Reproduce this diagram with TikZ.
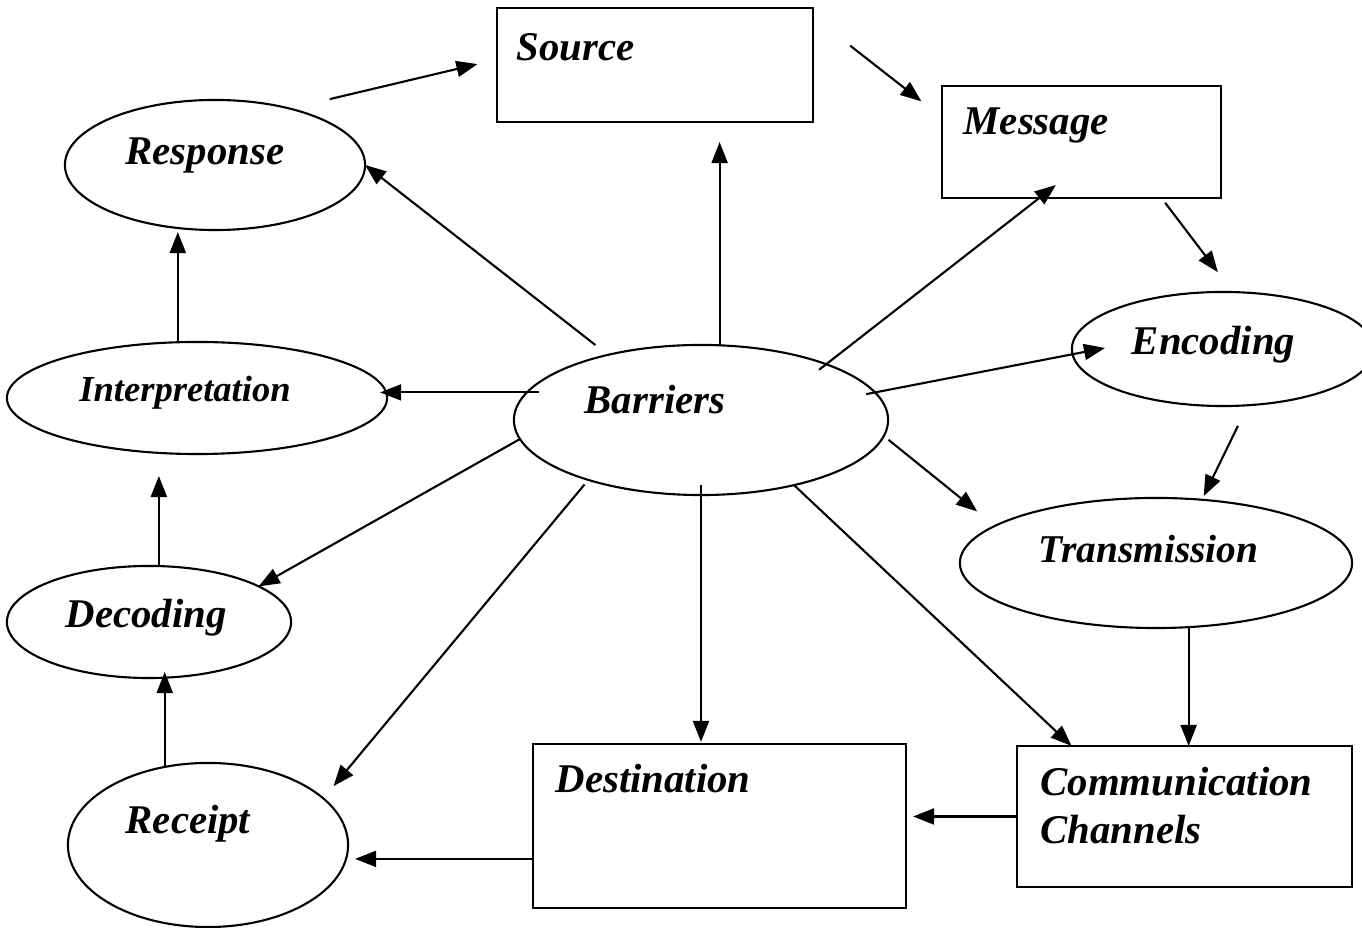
\documentclass[tikz,border=0pt]{standalone}
\usepackage{fontspec}
\setmainfont{Liberation Serif}
\usetikzlibrary{shapes.geometric,arrows.meta}

\begin{document}
\begin{tikzpicture}[x=0.01cm,y=-0.01cm,
    bubble/.style={draw, ellipse, inner sep=0pt, outer sep=0pt, line width=0.6pt},
    box/.style={draw, rectangle, inner sep=0pt, outer sep=0pt, line width=0.7pt},
    txt/.style={inner sep=0pt, anchor=base, font=\fontsize{11.6}{13.5}\selectfont\bfseries\itshape},
    arr/.style={-{Triangle[length=2.1mm,width=1.6mm]}, line width=0.6pt}]
\useasboundingbox (0,0) rectangle (1362,928);

% boxes
\node[box, minimum width=3.16cm, minimum height=1.14cm,
  label={[txt, anchor=base west, xshift=1.9mm, yshift=-5.3mm]north west:Source}] (src) at (655,65) {};
\node[box, minimum width=2.79cm, minimum height=1.12cm,
  label={[txt, anchor=base west, xshift=2.1mm, yshift=-4.9mm]north west:Message}] (msg) at (1081.5,142) {};
\node[box, minimum width=3.73cm, minimum height=1.64cm,
  label={[txt, anchor=base west, xshift=2.2mm, yshift=-4.9mm]north west:Destination}] (dest) at (719.5,826) {};
\node[box, minimum width=3.35cm, minimum height=1.41cm,
  label={[txt, align=left, anchor=north west, xshift=2.3mm, yshift=-2.1mm]north west:Communication\\Channels}] (comm) at (1184.5,816.5) {};

% ellipses
\node[bubble, minimum width=3cm, minimum height=1.3cm] (resp) at (215,165) {};
\node[bubble, minimum width=3.8cm, minimum height=1.12cm] (interp) at (197,398) {};
\node[bubble, minimum width=3.74cm, minimum height=1.5cm] (barr) at (701,420) {};
\node[bubble, minimum width=3.02cm, minimum height=1.14cm] (enc) at (1223,349) {};
\node[bubble, minimum width=3.92cm, minimum height=1.3cm] (trans) at (1156,563) {};
\node[bubble, minimum width=2.84cm, minimum height=1.12cm] (dec) at (149,622) {};
\node[bubble, minimum width=2.8cm, minimum height=1.64cm] (rec) at (208,845) {};

% their texts
\node[txt] (resptxt) at ([xshift=-1mm]resp.center) {Response};
\node[txt, font=\fontsize{10.4}{12}\selectfont\bfseries\itshape] (interptxt) at ([xshift=-1.2mm, yshift=-0.4mm]interp.center) {Interpretation};
\node[txt] (barrtxt) at ([xshift=-4.6mm, yshift=0.6mm]barr.center) {Barriers};
\node[txt] (enctxt) at ([xshift=-0.95mm, yshift=-0.6mm]enc.center) {Encoding};
\node[txt, font=\fontsize{11.2}{13}\selectfont\bfseries\itshape] (transtxt) at ([xshift=-0.75mm]trans.center) {Transmission};
\node[txt] (dectxt) at ([xshift=-0.3mm, yshift=-0.6mm]dec.center) {Decoding};
\node[txt] (rectxt) at ([xshift=-2mm, yshift=1.1mm]rec.center) {Receipt};

% the cycle
\draw[arr, shorten <=4.1mm, shorten >=2mm] (resp.37) -- (src.178);
\draw[arr, shorten <=4.7mm, shorten >=2.6mm] (src.17) -- (msg.170);
\draw[arr, shorten <=0.6mm, shorten >=2.5mm] (msg.-35) -- (enc.80);
\draw[arr, shorten <=2.3mm, shorten >=0.4mm] (enc.-66) -- (trans.54);
\draw[arr] (trans.-63) -- (trans.-63 |- comm.north);
\draw[arr, shorten >=0.7mm] (comm.west) -- (comm.west -| dest.east);
\draw[arr, shorten >=0.7mm] (dest.190) -- (dest.190 -| rec.east);
\draw[arr, shorten >=-0.6mm] (rec.119) -- (rec.119 |- dec.south);
\draw[arr, shorten >=2.2mm] (dec.80) -- (dec.80 |- interp.south);
\draw[arr, shorten >=0.2mm] (interp.109) -- (interp.109 |- resp.south);

% spokes out of the barriers
\draw[arr, shorten <=1.6mm] (barr.145) -- (resp.east);
\draw[arr, shorten >=2mm] (barr.76) -- (barr.76 |- src.south);
\draw[arr, shorten <=-0.9mm, shorten >=-2.1mm] (barr.24) -- (msg.-127);
\draw[arr, shorten <=-0.9mm, shorten >=-3.3mm] (barr.9) -- (enc.182);
\draw[arr, shorten <=0.6mm, shorten >=2.3mm] (barr.-5) -- (trans.167);
\draw[arr] (barr.-35) -- (comm.148);
\draw[arr, shorten <=-1mm, shorten >=0.2mm] (barr.south) -- (barr.south |- dest.north);
\draw[arr, shorten <=0.6mm, shorten >=1.6mm] (barr.-152) -- (rec.22);
\draw[arr] (barr.186) -- (dec.18);
\draw[arr, shorten <=-1.2mm, shorten >=-0.7mm] (barr.171) -- (barr.171 -| interp.east);
\end{tikzpicture}
\end{document}
